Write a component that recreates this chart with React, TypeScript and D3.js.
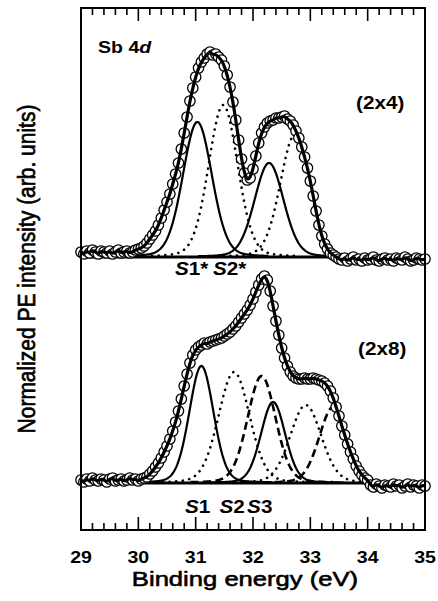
import React from "react";
import * as d3 from "d3";

// Binding energy grid: first point and step (eV)
const energyStart = 29;
const energyStep = 0.05;
const xMajorTicks = [29, 30, 31, 32, 33, 34, 35];

// Measured Sb 4d spectra (normalized intensity, arb. units) on the energy grid
const topData = [
  5, 3, 6, 4, 7, 5, 3, 6, 5, 4, 6, 3, 5, 7, 4, 5, 6, 4, 5, 7,
  8, 9, 11, 14, 18, 22, 26, 32, 39, 47, 55, 63, 73, 83, 94, 108, 124, 140, 156, 169,
  180, 189, 195, 199, 203, 205, 202, 203, 200, 197, 191, 182, 170, 155, 137, 117, 98, 84, 77, 79,
  88, 101, 114, 124, 130, 134, 136, 137, 139, 139, 140, 141, 138, 136, 132, 126, 119, 110, 100, 89,
  76, 61, 46, 32, 21, 13, 8, 4, 2,
  0, -2, -3, -1, -4, -2, 0, -3, -2, -4, -1, -3, -2, 0, -3, -4, -2, -1, -3, -2, -4, -1, -2, -3, 0, -2, -4, -3, -1, -2, -3, -2,
];
const bottomData = [
  3, 1, 4, 2, 5, 3, 2, 4, 3, 1, 4, 5, 2, 3, 4, 2, 3, 5, 3, 4, 2, 4, 5,
  6, 9, 12, 16, 20, 25, 31, 37, 44, 52, 61, 72, 84, 97, 109, 120, 128,
  133, 136, 138, 140, 139, 141, 142, 143, 144, 145, 147, 149, 151, 154, 157, 161, 165, 169, 173, 178,
  184, 191, 198, 204, 207, 203, 192, 177, 162, 148, 135, 125, 117, 111, 107, 105, 104, 104, 105, 104,
  104, 105, 104, 103, 102, 100, 97, 92, 85, 76, 67, 57, 48, 39, 31, 24, 17, 12, 8, 5, 3,
  -2, -4, -1, -3, -5, -2, -3, -4, -1, -3, -2, -5, -3, -1, -4, -2, -3, -5, -2, -3,
];
const topOffset = 226; // vertical offset of the (2x4) spectrum

// Fit components: spin-orbit doublets (4d5/2 center, heights of 5/2 and 3/2 lines, half width)
const spinOrbitSplit = 1.25;
const topNames = ["S1*", "S2*"];
const topCenter = [31.03, 31.48];
const topHeight52 = [135, 152];
const topHeight32 = [94, 122];
const topHalfWidth = [0.3, 0.3];

const bottomNames = ["S1", "S2", "S3"];
const bottomCenter = [31.1, 31.67, 32.15];
const bottomHeight52 = [117, 111, 107];
const bottomHeight32 = [81, 78, 76];
const bottomHalfWidth = [0.25, 0.32, 0.29];

const W = 438;
const H = 601;
const left = 81, right = 425, top = 8, bottom = 530;
const FONT = "'Liberation Sans', Arial, Helvetica, sans-serif";
const SX = 1.15;

const x = d3.scaleLinear().domain([29, 35]).range([left, right]);
const y = d3.scaleLinear().domain([-47, 475]).range([bottom, top]);

function voigt(e: number, c: number, h: number, w: number) {
  const u = (e - c) / w;
  return h * (0.85 * Math.exp(-Math.LN2 * u * u) + 0.15 / (1 + u * u));
}

const fineGrid = d3.range(29, 35.0001, 0.01);

function compPath(c: number, h: number, w: number, offset: number) {
  const pts = fineGrid.filter((e) => Math.abs(e - c) < 1.25);
  const line = d3
    .line<number>()
    .x((e) => x(e))
    .y((e) => y(offset + voigt(e, c, h, w)));
  return line(pts) || "";
}

const styleFor = (kind: number) => {
  if (kind === 0) return { strokeWidth: 2.2, dash: undefined, cap: "butt" as const };
  if (kind === 1) return { strokeWidth: 2.6, dash: "0.1 6.5", cap: "round" as const };
  return { strokeWidth: 2.6, dash: "8 4.5", cap: "butt" as const };
};

function Spectrum({ data, offset, names, centers, h52, h32, hw, kinds }: any) {
  const energies = data.map((_: number, i: number) => energyStart + i * energyStep);
  const env = d3
    .line<number>()
    .x((_, i) => x(energies[i]))
    .y((v) => y(offset + v))
    .curve(d3.curveBasis);
  return (
    <g>
      <line x1={left} x2={right} y1={y(offset)} y2={y(offset)} stroke="#000" strokeWidth={2.8} />
      {names.map((n: string, k: number) => {
        const st = styleFor(kinds[k]);
        return (
          <g key={n}>
            {[[centers[k], h52[k]], [centers[k] + spinOrbitSplit, h32[k]]].map(([c, h], j) => (
              <path
                key={j}
                d={compPath(c, h, hw[k], offset)}
                fill="none"
                stroke="#000"
                strokeWidth={st.strokeWidth}
                strokeDasharray={st.dash}
                strokeLinecap={st.cap}
              />
            ))}
          </g>
        );
      })}
      {data.map((v: number, i: number) => (
        <circle key={i} cx={x(energies[i])} cy={y(offset + v)} r={5.2} fill="#fff" stroke="#000" strokeWidth={1.3} />
      ))}
      <path d={env(data) || ""} fill="none" stroke="#000" strokeWidth={3.2} />
    </g>
  );
}

function Label({ x0, y0, size, children, anchor = "start", sx = SX, weight = "bold", outline = 0 }: any) {
  return (
    <text
      transform={`translate(${x0},${y0}) scale(${sx},1)`}
      fontFamily={FONT}
      fontSize={size}
      fontWeight={weight}
      textAnchor={anchor}
      fill="#000"
      stroke={outline ? "#000" : undefined}
      strokeWidth={outline || undefined}
    >
      {children}
    </text>
  );
}

export default function App() {
  const minor = d3.range(29, 35.0001, 0.2);
  return (
    <svg width={W} height={H} style={{ position: "absolute", left: 0, top: 0, background: "#fff" }}>
      <rect x={0} y={0} width={W} height={H} fill="#fff" />
      <Spectrum
        data={topData}
        offset={topOffset}
        names={topNames}
        centers={topCenter}
        h52={topHeight52}
        h32={topHeight32}
        hw={topHalfWidth}
        kinds={[0, 1]}
      />
      <Spectrum
        data={bottomData}
        offset={0}
        names={bottomNames}
        centers={bottomCenter}
        h52={bottomHeight52}
        h32={bottomHeight32}
        hw={bottomHalfWidth}
        kinds={[0, 1, 2]}
      />
      {/* frame */}
      <rect x={left} y={top} width={right - left} height={bottom - top} fill="none" stroke="#000" strokeWidth={2} />
      {minor.map((t, i) => {
        const major = Math.abs(t - Math.round(t)) < 1e-6;
        const len = major ? 13 : 7;
        return (
          <g key={i}>
            <line x1={x(t)} x2={x(t)} y1={top} y2={top + len} stroke="#000" strokeWidth={1.6} />
            <line x1={x(t)} x2={x(t)} y1={bottom} y2={bottom - len} stroke="#000" strokeWidth={1.6} />
          </g>
        );
      })}
      {xMajorTicks.map((t) => (
        <Label key={t} x0={x(t)} y0={563} size={17} anchor="middle">
          {t}
        </Label>
      ))}
      <Label x0={(left + right) / 2 - 8} y0={586} size={21} anchor="middle" sx={1.22} weight="normal" outline={0.6}>
        Binding energy (eV)
      </Label>
      <text
        transform={`translate(35,${(top + bottom) / 2}) scale(${SX},1) rotate(-90)`}
        fontFamily={FONT}
        fontSize={21}
        textAnchor="middle"
        fill="#000"
        stroke="#000"
        strokeWidth={0.6}
      >
        Normalized PE intensity (arb. units)
      </text>
      <Label x0={98} y0={53} size={17}>
        Sb 4<tspan fontStyle="italic">d</tspan>
      </Label>
      <Label x0={356} y0={109} size={18}>
        (2x4)
      </Label>
      <Label x0={358} y0={355} size={18}>
        (2x8)
      </Label>
      <Label x0={175} y0={275} size={18}>
        <tspan fontStyle="italic">S</tspan>1*<tspan dx={4} fontStyle="italic">S</tspan>2*
      </Label>
      <Label x0={185} y0={513} size={18}>
        <tspan fontStyle="italic">S</tspan>1<tspan dx={8} fontStyle="italic">S</tspan>2<tspan dx={2} fontStyle="italic">S</tspan>3
      </Label>
    </svg>
  );
}
